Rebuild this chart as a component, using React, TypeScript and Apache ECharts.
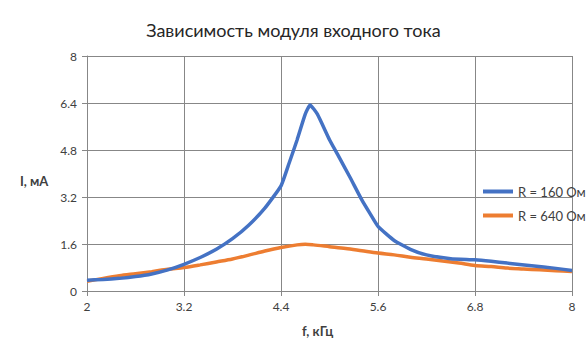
import React, { useEffect, useRef } from "react";
import * as echarts from "echarts";

const chartTitle = "Зависимость модуля входного тока";
const xName = "f, кГц";
const yName = "I, мА";
const seriesNames = ["R = 160 Ом", "R = 640 Ом"];

const freq160 = [2.0, 2.2, 2.4, 2.6, 2.8, 3.0, 3.2, 3.4, 3.6, 3.8, 4.0, 4.2, 4.4, 4.5, 4.6, 4.7, 4.76, 4.85, 5.0, 5.1, 5.25, 5.4, 5.5, 5.6, 5.8, 6.0, 6.2, 6.5, 6.8, 7.0, 7.2, 7.5, 7.8, 8.0];
const current160 = [0.37, 0.39, 0.43, 0.49, 0.58, 0.72, 0.91, 1.14, 1.42, 1.78, 2.24, 2.82, 3.58, 4.35, 5.15, 6.02, 6.33, 6.02, 5.15, 4.65, 3.89, 3.1, 2.64, 2.2, 1.72, 1.42, 1.23, 1.1, 1.06, 1.01, 0.95, 0.86, 0.77, 0.7];

const freq640 = [2.0, 2.2, 2.4, 2.6, 2.8, 3.0, 3.2, 3.4, 3.6, 3.8, 4.0, 4.2, 4.4, 4.6, 4.7, 4.8, 5.0, 5.2, 5.4, 5.6, 5.8, 6.0, 6.2, 6.4, 6.6, 6.8, 7.0, 7.2, 7.4, 7.6, 7.8, 8.0];
const current640 = [0.33, 0.43, 0.52, 0.59, 0.66, 0.74, 0.8, 0.89, 0.99, 1.09, 1.22, 1.36, 1.48, 1.57, 1.59, 1.57, 1.51, 1.45, 1.37, 1.29, 1.23, 1.15, 1.09, 1.02, 0.95, 0.87, 0.83, 0.78, 0.75, 0.72, 0.69, 0.66];

const xMin = 2;
const xMax = 8;
const xStep = 1.2;
const yMin = 0;
const yMax = 8;
const yStep = 1.6;

const FONT = "Lato, 'Open Sans', sans-serif";
const GRID = "#878787";
const TEXT = "#404040";

export default function App() {
  const ref = useRef<HTMLDivElement>(null);
  useEffect(() => {
    document.body.style.margin = "0";
    if (!ref.current) return;
    const chart = echarts.init(ref.current, undefined, { renderer: "svg" });
    const fmt = (v: number) => String(Math.round(v * 10) / 10);
    chart.setOption({
      animation: false,
      backgroundColor: "#ffffff",
      textStyle: { fontFamily: FONT },
      title: {
        text: chartTitle,
        left: "center",
        top: 16,
        textStyle: { fontFamily: FONT, fontSize: 18, fontWeight: "normal", color: "#262626" },
      },
      grid: { left: 87, right: 15, top: 56, bottom: 67, containLabel: false },
      legend: {
        orient: "vertical",
        left: 483,
        top: 185,
        padding: 0,
        itemGap: 11,
        itemWidth: 30,
        itemHeight: 4,
        icon: "rect",
        textStyle: { fontFamily: FONT, fontSize: 13, color: TEXT },
        data: seriesNames,
      },
      xAxis: {
        type: "value",
        min: xMin,
        max: xMax,
        interval: xStep,
        axisLine: { show: true, lineStyle: { color: GRID, width: 1 } },
        axisTick: { show: true, length: 5, lineStyle: { color: GRID } },
        splitLine: { show: true, lineStyle: { color: GRID, width: 1 } },
        axisLabel: { color: TEXT, fontSize: 12, fontFamily: FONT, margin: 9, formatter: fmt },
      },
      yAxis: {
        type: "value",
        min: yMin,
        max: yMax,
        interval: yStep,
        axisLine: { show: true, lineStyle: { color: GRID, width: 1 } },
        axisTick: { show: true, length: 5, lineStyle: { color: GRID } },
        splitLine: { show: true, lineStyle: { color: GRID, width: 1 } },
        axisLabel: { color: TEXT, fontSize: 12, fontFamily: FONT, margin: 10, formatter: fmt },
      },
      graphic: [
        {
          type: "text",
          left: 20,
          top: 174,
          style: { text: yName, font: `bold 13px ${FONT}`, fill: TEXT },
        },
        {
          type: "text",
          left: 302,
          top: 324,
          style: { text: xName, font: `bold 13px ${FONT}`, fill: TEXT },
        },
      ],
      series: [
        {
          name: seriesNames[0],
          type: "line",
          data: freq160.map((f, i) => [f, current160[i]]),
          smooth: 0.15,
          showSymbol: false,
          lineStyle: { color: "#4472C4", width: 3.5 },
          itemStyle: { color: "#4472C4" },
          z: 3,
        },
        {
          name: seriesNames[1],
          type: "line",
          data: freq640.map((f, i) => [f, current640[i]]),
          smooth: 0.3,
          showSymbol: false,
          lineStyle: { color: "#ED7D31", width: 3.5 },
          itemStyle: { color: "#ED7D31" },
          z: 2,
        },
      ],
    });
    return () => chart.dispose();
  }, []);
  return <div ref={ref} style={{ width: 587, height: 358 }} />;
}
